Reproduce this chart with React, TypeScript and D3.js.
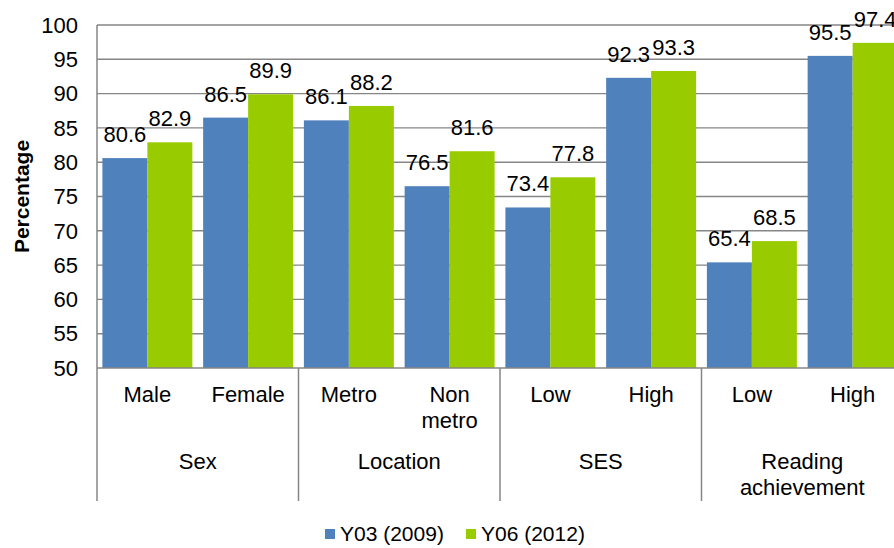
import React from 'react';
import * as d3 from 'd3';

// 分组与子类别
const groups = ['Sex', 'Location', 'SES', 'Reading achievement'];
const groupLines = [['Sex'], ['Location'], ['SES'], ['Reading', 'achievement']];
const categories = ['Male', 'Female', 'Metro', 'Non metro', 'Low', 'High', 'Low', 'High'];
const categoryLines = [['Male'], ['Female'], ['Metro'], ['Non', 'metro'], ['Low'], ['High'], ['Low'], ['High']];
const categoryGroup = [0, 0, 1, 1, 2, 2, 3, 3];

const seriesNames = ['Y03 (2009)', 'Y06 (2012)'];
const seriesColors = ['#4F81BD', '#99CC00'];
const y03 = [80.6, 86.5, 86.1, 76.5, 73.4, 92.3, 65.4, 95.5];
const y06 = [82.9, 89.9, 88.2, 81.6, 77.8, 93.3, 68.5, 97.4];
const seriesValues = [y03, y06];

const yTicks = [50, 55, 60, 65, 70, 75, 80, 85, 90, 95, 100];

const W = 894;
const H = 548;
const FONT = '"Liberation Sans", Arial, sans-serif';
const GRID = '#868686';
const FS = 22;

const App: React.FC = () => {
  const left = 97;
  const right = 903;
  const top = 25;
  const bottom = 368;
  const axisBottom = 501;

  const y = d3.scaleLinear().domain([50, 100]).range([bottom, top]);
  const catIds = categories.map((_, i) => String(i));
  const x0 = d3.scaleBand<string>()
    .domain(catIds)
    .range([left, right])
    .paddingInner(0.107)
    .paddingOuter(0.0535);
  const x1 = d3.scaleBand<string>()
    .domain(seriesNames)
    .range([0, x0.bandwidth()]);

  const step = x0.step();
  const catCenter = (i: number) => left + step * (i + 0.5);

  // 分组边界
  const groupStarts = groups.map((_, g) => left + step * categoryGroup.indexOf(g));
  const groupEnds = groups.map((_, g) => left + step * (categoryGroup.lastIndexOf(g) + 1));

  const legendX = [325, 466];

  return (
    <div style={{ position: 'absolute', left: 0, top: 0 }}>
      <svg width={W} height={H} style={{ display: 'block', background: '#fff' }} fontFamily={FONT}>
        {/* 网格线 */}
        {yTicks.filter(t => t > 50).map(t => (
          <line key={t} x1={left} x2={W} y1={y(t)} y2={y(t)} stroke={GRID} strokeWidth={1.4} />
        ))}

        {/* 柱子 */}
        {seriesValues.map((vals, s) => (
          <g key={s}>
            {vals.map((v, i) => (
              <rect
                key={i}
                x={(x0(catIds[i]) as number) + (x1(seriesNames[s]) as number)}
                y={y(v)}
                width={x1.bandwidth()}
                height={y(50) - y(v)}
                fill={seriesColors[s]}
              />
            ))}
          </g>
        ))}

        {/* 数据标签 */}
        {seriesValues.map((vals, s) => (
          <g key={'l' + s}>
            {vals.map((v, i) => (
              <text
                key={i}
                x={(x0(catIds[i]) as number) + (x1(seriesNames[s]) as number) + x1.bandwidth() / 2}
                y={y(v) - 16}
                textAnchor="middle"
                fontSize={FS}
                fill="#000"
              >
                {v.toFixed(1)}
              </text>
            ))}
          </g>
        ))}

        {/* 坐标轴 */}
        <line x1={left} x2={W} y1={bottom} y2={bottom} stroke={GRID} strokeWidth={1.5} />
        <line x1={left} x2={left} y1={top} y2={axisBottom} stroke={GRID} strokeWidth={1.5} />
        {groupEnds.map((xe, g) => (
          <line key={g} x1={xe} x2={xe} y1={bottom} y2={axisBottom} stroke={GRID} strokeWidth={1.5} />
        ))}

        {/* Y 轴刻度 */}
        {yTicks.map(t => (
          <text key={t} x={78} y={y(t)} dy="0.35em" textAnchor="end" fontSize={FS} fill="#000">
            {t}
          </text>
        ))}

        {/* Y 轴标题 */}
        <text
          transform={`translate(29, ${(top + bottom) / 2}) rotate(-90)`}
          textAnchor="middle"
          fontSize={21}
          fontWeight="bold"
          fill="#000"
        >
          Percentage
        </text>

        {/* 子类别标签 */}
        {categoryLines.map((lines, i) => (
          <text key={i} x={catCenter(i)} y={402} textAnchor="middle" fontSize={FS} fill="#000">
            {lines.map((ln, k) => (
              <tspan key={k} x={catCenter(i)} dy={k === 0 ? 0 : 25.5}>{ln}</tspan>
            ))}
          </text>
        ))}

        {/* 分组标签 */}
        {groupLines.map((lines, g) => {
          const cx = (groupStarts[g] + groupEnds[g]) / 2;
          return (
            <text key={g} x={cx} y={469} textAnchor="middle" fontSize={FS} fill="#000">
              {lines.map((ln, k) => (
                <tspan key={k} x={cx} dy={k === 0 ? 0 : 25.5}>{ln}</tspan>
              ))}
            </text>
          );
        })}

        {/* 图例 */}
        {seriesNames.map((name, s) => (
          <g key={name} transform={`translate(${legendX[s]}, 529)`}>
            <rect width={10} height={10} fill={seriesColors[s]} />
            <text x={15} y={5} dy="0.35em" fontSize={21} fill="#000">{name}</text>
          </g>
        ))}
      </svg>
    </div>
  );
};

export default App;
